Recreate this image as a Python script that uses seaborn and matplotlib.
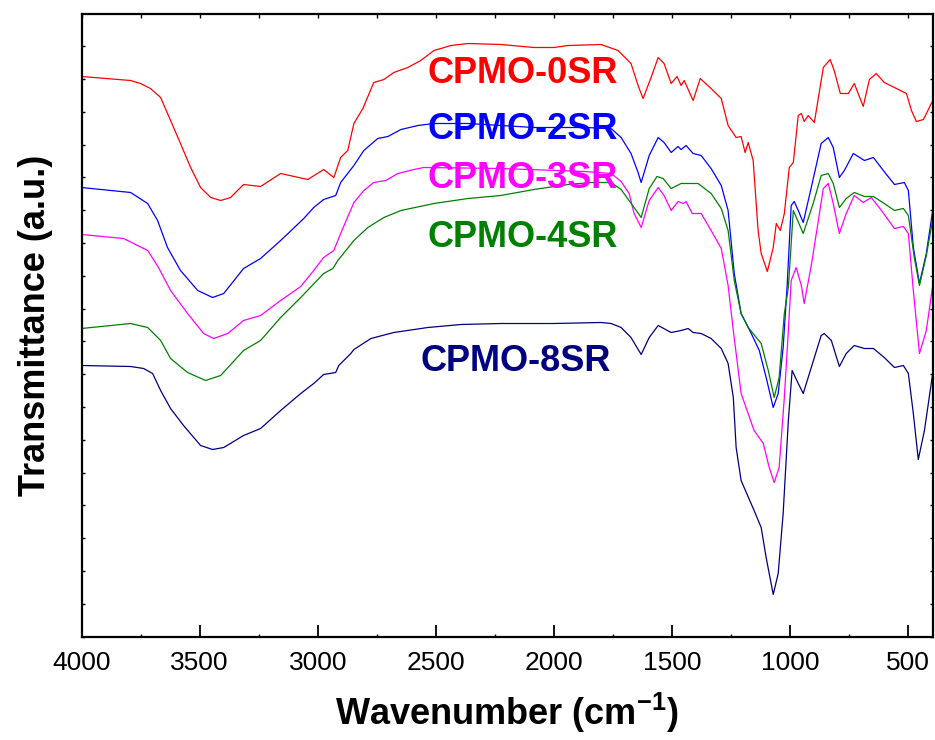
import matplotlib
matplotlib.use("Agg")
import matplotlib.pyplot as plt
from matplotlib import font_manager as fm
from matplotlib.ticker import MultipleLocator, NullFormatter
import numpy as np
import pandas as pd
import seaborn as sns

# ---------------- FTIR spectra (wavenumber in cm^-1, transmittance in a.u.) ----------------
wn_0sr = [4000, 3792, 3750, 3708, 3665, 3623, 3581, 3538, 3496, 3453, 3411, 3369, 3314, 3242,
          3157, 3042, 2975, 2932, 2903, 2873, 2847, 2809, 2763, 2720, 2678, 2619, 2564, 2508,
          2436, 2364, 2225, 2085, 2000, 1941, 1801, 1729, 1674, 1644, 1623, 1589, 1559, 1534,
          1504, 1479, 1462, 1449, 1411, 1381, 1335, 1292, 1263, 1229, 1208, 1191, 1178, 1157,
          1136, 1123, 1097, 1072, 1059, 1042, 1025, 1004, 987, 966, 953, 941, 924, 898, 860,
          831, 814, 788, 754, 729, 691, 665, 636, 602, 559, 508, 487, 466, 436, 403, 390]
t_0sr = [560, 556, 553, 548, 539, 516, 493, 469, 449, 439, 436, 439, 452, 450,
         463, 457, 467, 459, 479, 486, 513, 528, 554, 557, 564, 569, 576, 586,
         591, 593, 592, 589, 589, 591, 592, 586, 573, 551, 538, 559, 579, 573,
         553, 560, 551, 556, 536, 558, 548, 538, 511, 499, 500, 484, 494, 476,
         406, 383, 365, 389, 413, 406, 423, 469, 474, 521, 523, 515, 521, 514, 569,
         577, 566, 543, 543, 553, 530, 557, 563, 554, 549, 543, 526, 515, 517, 533, 538]

wn_2sr = [4000, 3792, 3720, 3678, 3636, 3581, 3508, 3445, 3398, 3314, 3242, 3157, 3059, 3017,
          2975, 2924, 2903, 2847, 2805, 2746, 2703, 2648, 2576, 2508, 2364, 2225, 2085, 1873,
          1758, 1716, 1674, 1644, 1631, 1597, 1559, 1534, 1504, 1475, 1462, 1441, 1411, 1377,
          1335, 1292, 1263, 1237, 1208, 1165, 1131, 1102, 1072, 1051, 1030, 1013, 996, 983,
          966, 945, 911, 869, 839, 818, 792, 771, 733, 686, 648, 606, 559, 517, 500, 479,
          453, 424, 394]
t_2sr = [449, 444, 433, 416, 389, 366, 346, 339, 343, 368, 378, 396, 418, 429,
         437, 441, 454, 471, 486, 498, 500, 507, 511, 513, 513, 511, 509, 509,
         508, 499, 483, 464, 454, 481, 499, 494, 484, 490, 487, 491, 483, 481,
         468, 451, 426, 363, 323, 303, 286, 259, 229, 243, 289, 351, 431, 435,
         426, 414, 449, 493, 499, 489, 459, 466, 483, 476, 479, 466, 452, 454, 446, 389,
         353, 383, 431]

wn_3sr = [4000, 3822, 3720, 3674, 3623, 3551, 3483, 3441, 3381, 3314, 3242, 3157, 3072, 3017,
          2975, 2932, 2903, 2847, 2805, 2763, 2712, 2661, 2593, 2551, 2225, 1873, 1758, 1716,
          1682, 1661, 1631, 1597, 1559, 1534, 1504, 1475, 1453, 1441, 1415, 1377, 1335, 1292,
          1263, 1241, 1208, 1153, 1114, 1089, 1068, 1047, 1025, 1008, 996, 975, 953, 941,
          911, 881, 860, 839, 818, 792, 763, 729, 691, 657, 614, 559, 521, 500, 479, 453,
          424, 394]
t_3sr = [402, 398, 386, 369, 346, 323, 303, 298, 303, 316, 321, 336, 350, 366,
         379, 386, 403, 434, 446, 454, 456, 463, 467, 469, 468, 465, 463, 455,
         443, 423, 409, 436, 449, 441, 426, 435, 433, 435, 423, 423, 406, 388,
         351, 306, 243, 206, 193, 169, 154, 169, 239, 306, 356, 369, 351, 333,
         371, 416, 448, 453, 433, 403, 423, 441, 434, 439, 426, 408, 410, 403, 346, 283,
         306, 356]

wn_4sr = [4000, 3792, 3720, 3665, 3623, 3551, 3475, 3411, 3314, 3242, 3157, 3072, 2975, 2936,
          2915, 2847, 2788, 2720, 2648, 2508, 2364, 2225, 2085, 1941, 1843, 1758, 1716, 1661,
          1631, 1597, 1564, 1538, 1504, 1462, 1419, 1390, 1335, 1292, 1263, 1237, 1208, 1178,
          1123, 1093, 1068, 1047, 1025, 1008, 987, 945, 903, 869, 839, 818, 792, 763, 729,
          686, 648, 602, 559, 521, 500, 475, 453, 424, 394]
t_4sr = [308, 313, 309, 296, 278, 264, 256, 261, 286, 296, 319, 339, 363, 368,
         376, 396, 409, 419, 426, 433, 438, 441, 447, 452, 454, 454, 447, 429,
         419, 448, 460, 458, 448, 453, 453, 453, 443, 428, 406, 356, 323, 309,
         293, 266, 239, 259, 323, 349, 426, 403, 433, 461, 463, 453, 429, 438, 444,
         440, 440, 433, 426, 428, 421, 379, 351, 381, 421]

wn_8sr = [4000, 3792, 3737, 3699, 3665, 3623, 3568, 3496, 3445, 3398, 3314, 3242, 3157, 3072,
          3017, 2975, 2924, 2911, 2860, 2847, 2775, 2678, 2534, 2394, 2225, 2000, 1801, 1758,
          1716, 1674, 1631, 1597, 1559, 1504, 1462, 1432, 1411, 1377, 1335, 1292, 1263, 1241,
          1229, 1208, 1153, 1123, 1102, 1072, 1051, 1030, 1008, 992, 966, 945, 911, 869,
          856, 826, 792, 763, 729, 686, 648, 602, 559, 521, 500, 479, 458, 432, 394]
t_8sr = [271, 270, 268, 263, 246, 228, 211, 191, 187, 189, 201, 208, 226, 243,
         253, 262, 264, 271, 283, 287, 298, 304, 309, 312, 313, 313, 314, 313,
         309, 299, 282, 299, 311, 304, 306, 308, 304, 303, 298, 288, 273, 239,
         189, 156, 126, 109, 79, 42, 63, 123, 216, 266, 253, 243, 269, 301,
         303, 296, 270, 283, 291, 288, 288, 279, 269, 271, 263, 223, 177, 206, 268]

sample_names = ["CPMO-0SR", "CPMO-2SR", "CPMO-3SR", "CPMO-4SR", "CPMO-8SR"]
sample_colors = ["#FF0000", "#0000FF", "#FF00FF", "#008000", "#000080"]
label_wn = [2534, 2534, 2534, 2534, 2564]
label_t = [563, 507, 458, 399, 275]

x_ticks = [4000, 3500, 3000, 2500, 2000, 1500, 1000, 500]

# ---------------- styling ----------------
sns.set_style("ticks")


def first_font(candidates):
    for fam in candidates:
        try:
            fm.findfont(fm.FontProperties(family=fam, weight="bold"),
                        fallback_to_default=False)
            return fam
        except Exception:
            continue
    return "DejaVu Sans"


base_font = first_font(["Liberation Sans", "Arial"])
narrow_font = first_font(["Liberation Sans Narrow", "Arial Narrow"])
if narrow_font == "DejaVu Sans":
    narrow_font, label_size = base_font, 26
else:
    label_size = 30

plt.rcParams["font.family"] = [base_font, "DejaVu Sans"]
plt.rcParams["mathtext.fontset"] = "custom"
plt.rcParams["mathtext.rm"] = base_font
plt.rcParams["mathtext.bf"] = base_font + ":bold"
plt.rcParams["text.color"] = "black"
plt.rcParams["axes.labelcolor"] = "black"
plt.rcParams["xtick.color"] = "black"
plt.rcParams["ytick.color"] = "black"
plt.rcParams["xtick.labelcolor"] = "black"

frames = []
for name, w, t in zip(sample_names,
                      [wn_0sr, wn_2sr, wn_3sr, wn_4sr, wn_8sr],
                      [t_0sr, t_2sr, t_3sr, t_4sr, t_8sr]):
    frames.append(pd.DataFrame({"wavenumber": w, "transmittance": t, "sample": name}))
spectra = pd.concat(frames, ignore_index=True)

fig = plt.figure(figsize=(9.35, 7.4), dpi=100)
ax = fig.add_axes([81.5 / 935, (740 - 636.5) / 740, (932.7 - 81.5) / 935, (636.5 - 14) / 740])

sns.lineplot(data=spectra, x="wavenumber", y="transmittance", hue="sample",
             hue_order=sample_names, palette=sample_colors, estimator=None,
             sort=True, linewidth=0.9, legend=False, ax=ax)

ax.set_xlim(4000, 397)
ax.set_ylim(0, 622.5)

# bottom axis: labelled major ticks every 500, short minor ticks every 250
ax.xaxis.set_minor_locator(MultipleLocator(250))
ax.set_xticks(x_ticks)
ax.set_xticklabels([str(v) for v in x_ticks])
ax.tick_params(axis="x", which="major", direction="in", length=9, width=1.3,
               labelsize=19, pad=10.5, top=False, colors="black")
ax.tick_params(axis="x", which="minor", direction="in", length=2, width=1.0, top=False)

# top axis: uniform short ticks every 250
top = ax.secondary_xaxis("top")
top.xaxis.set_major_locator(MultipleLocator(250))
top.xaxis.set_major_formatter(NullFormatter())
top.tick_params(direction="in", length=3, width=1.0, colors="black")
top.spines["top"].set_visible(False)

# left/right: unlabelled short ticks
ax.yaxis.set_major_locator(MultipleLocator(32.8))
ax.yaxis.set_major_formatter(NullFormatter())
ax.tick_params(axis="y", which="major", direction="in", length=2.5, width=1.0,
               left=True, right=True, colors="black")

for side in ["left", "right", "top", "bottom"]:
    ax.spines[side].set_visible(True)
    ax.spines[side].set_linewidth(1.6)
    ax.spines[side].set_color("black")

ax.set_xlabel(r"Wavenumber (cm$^{\mathbf{-1}}$)", fontsize=26, fontweight="bold",
              labelpad=11, color="black")
ax.set_ylabel("Transmittance (a.u.)", fontsize=26, fontweight="bold", labelpad=17,
              color="black")

for name, color, lx, ly in zip(sample_names, sample_colors, label_wn, label_t):
    ax.text(lx, ly, name, color=color, fontsize=label_size, fontweight="bold",
            family=[narrow_font, "DejaVu Sans"], ha="left", va="center")

fig.savefig("out.png", dpi=100, facecolor="white")
